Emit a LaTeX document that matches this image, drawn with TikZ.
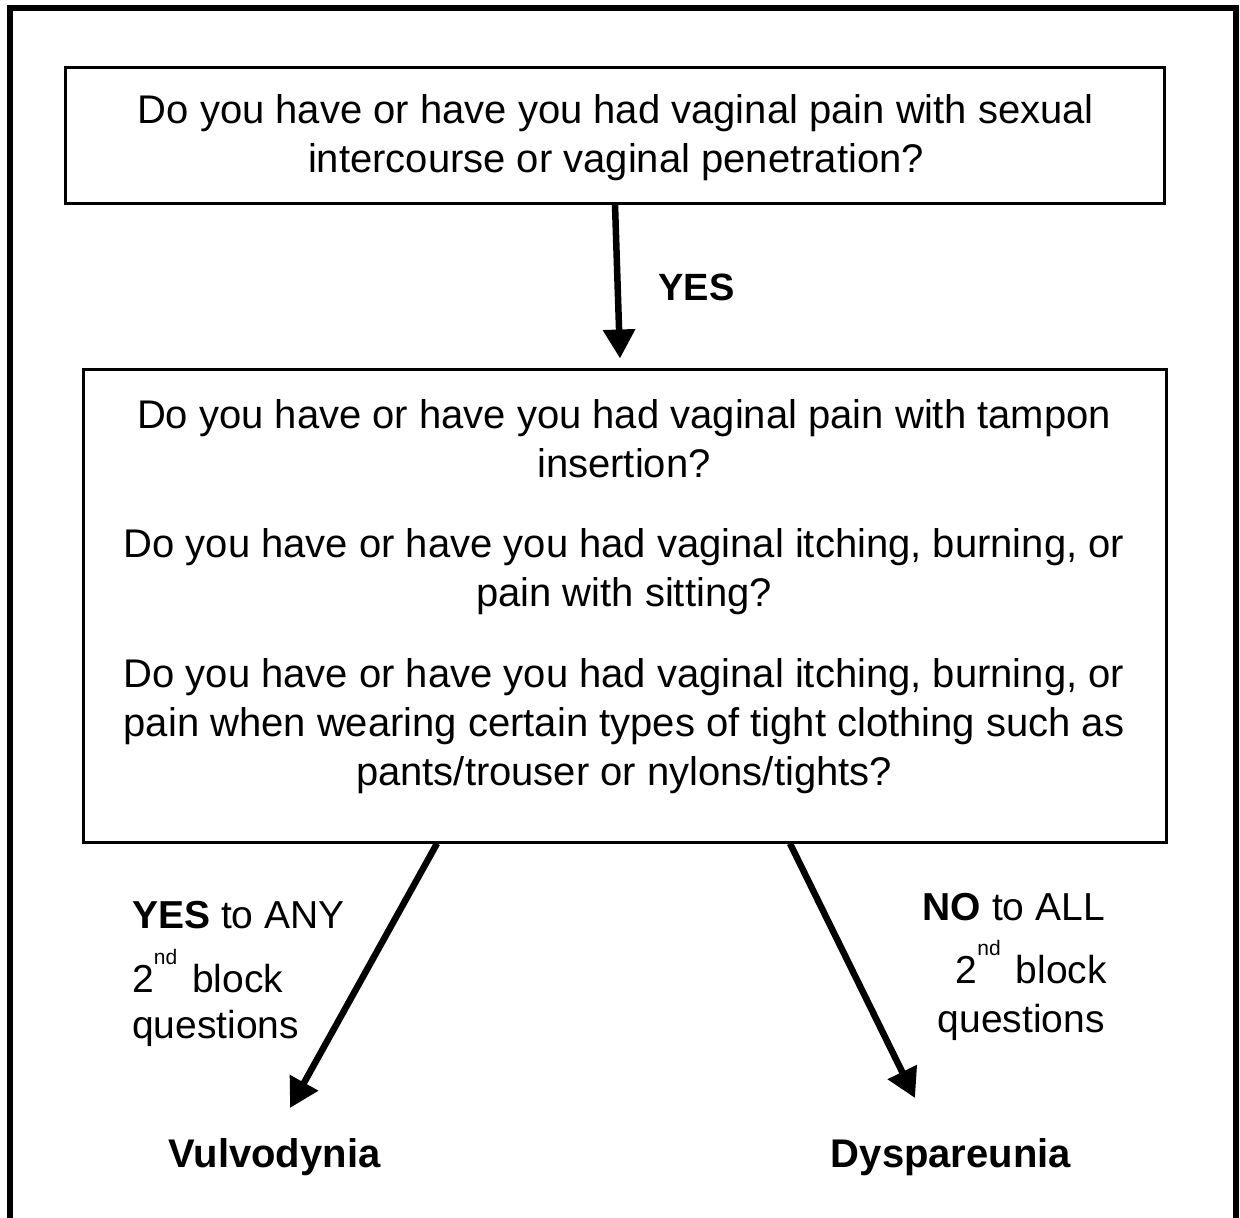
\documentclass[tikz,border=0pt]{standalone}
\usepackage{fontspec}
\setmainfont{Liberation Sans}
\usetikzlibrary{arrows.meta}
\begin{document}
\begin{tikzpicture}[x=1pt,y=-1pt,
  box/.style={draw=black, line width=3pt, rectangle, inner sep=0pt},
  qtext/.style={align=center, font=\fontsize{40}{49}\selectfont, inner sep=0pt},
  lbl/.style={font=\fontsize{39}{48}\selectfont, inner sep=0pt},
  outcome/.style={font=\bfseries\fontsize{40}{48}\selectfont, inner sep=0pt, anchor=base},
  arr/.style={line width=6.5pt, -{Triangle[width=31pt,length=29pt]}},
]
\useasboundingbox (0,0) rectangle (1240,1218);
\clip (0,0) rectangle (1240,1218);
% outer frame (bottom edge lies outside the picture)
\draw[line width=5.5pt] (10,1240) -- (10,8) -- (1236,8) -- (1236,1240);

% boxes
\node[box, minimum width=1099pt, minimum height=136pt] (q1) at (614.5,135) {};
\node[qtext] (q1t) at (616,137.7) {Do you have or have you had vaginal pain with sexual\\intercourse or vaginal penetration?};

\node[box, minimum width=1083pt, minimum height=473pt] (q2) at (624.5,605.5) {};
\node[qtext] (q2t) at (624,596.4) {Do you have or have you had vaginal pain with tampon\\insertion?\\[31.5pt]Do you have or have you had vaginal itching, burning, or\\pain with sitting?\\[31.5pt]Do you have or have you had vaginal itching, burning, or\\pain when wearing certain types of tight clothing such as\\pants/trouser or nylons/tights?};

% YES label
\node[font=\bfseries\fontsize{38}{46}\selectfont, inner sep=0pt, anchor=base] (yes) at (696.5,300) {YES};

% branch labels
\node[lbl, anchor=base west] (la) at (132,928) {\textbf{YES} to ANY};
\node[lbl, anchor=base west] (lb) at (132,992) {2\raisebox{28pt}{\fontsize{21}{21}\selectfont nd}\hspace{15pt}block};
\node[lbl, anchor=base west] (lc) at (132,1038) {questions};

\node[lbl, anchor=base east] (ra) at (1105,920) {\textbf{NO} to ALL};
\node[lbl, anchor=base east] (rb) at (1107,983) {2\raisebox{28pt}{\fontsize{21}{21}\selectfont nd}\hspace{15pt}block};
\node[lbl, anchor=base east] (rc) at (1105,1032) {questions};

% outcomes
\node[outcome] (vul) at (274.5,1167) {Vulvodynia};
\node[outcome] (dys) at (951,1167) {Dyspareunia};

% arrows
\coordinate (vt) at (290,1108);
\coordinate (dt) at (915,1098);
\draw[arr] ([xshift=0.5pt]q1.south) -- ([xshift=-4.5pt,yshift=9pt]q2.north);
\draw[arr] ([xshift=-187.5pt]q2.south) -- (vt);
\draw[arr] ([xshift=165.5pt]q2.south) -- (dt);
\end{tikzpicture}
\end{document}
